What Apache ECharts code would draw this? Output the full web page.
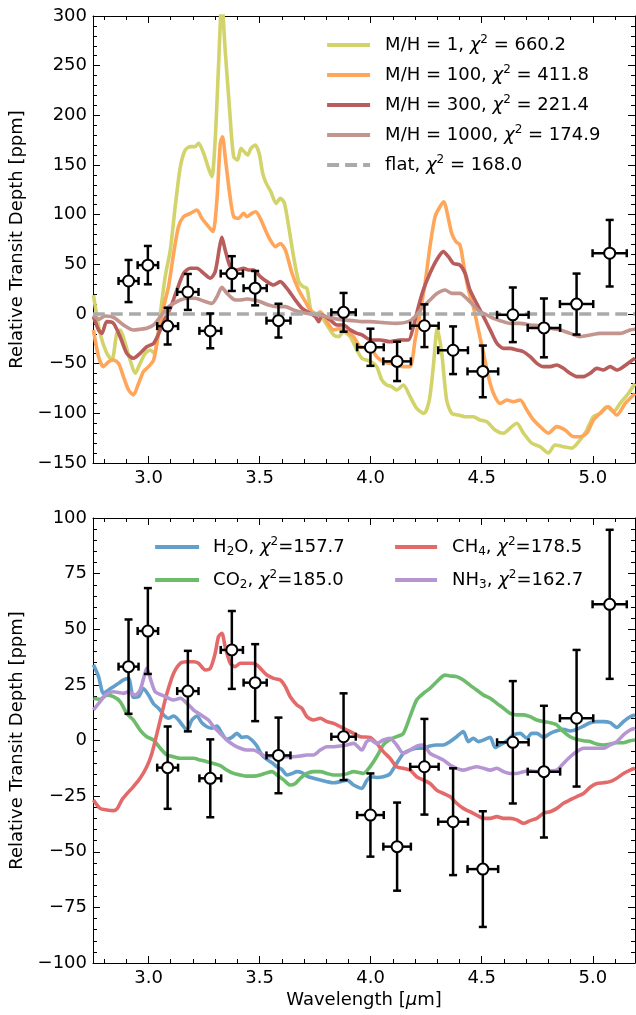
<!DOCTYPE html>
<html>
<head>
<meta charset="utf-8">
<script src="https://cdn.jsdelivr.net/npm/echarts@6/dist/echarts.min.js"></script>
<style>html,body{margin:0;padding:0;background:#fff;}#c{width:636px;height:1015px;}</style>
</head>
<body>
<div id="c"></div>
<script>
// ---------- axis settings / tick labels ----------
const xMin = 2.75, xMax = 5.19;
const xMajorTicks = [3.0, 3.5, 4.0, 4.5, 5.0];
const xMinorTicks = [2.8, 2.9, 3.1, 3.2, 3.3, 3.4, 3.6, 3.7, 3.8, 3.9, 4.1, 4.2, 4.3, 4.4, 4.6, 4.7, 4.8, 4.9, 5.1];

// ---------- observed data points ----------
const obsX    = [2.91, 2.997, 3.086, 3.177, 3.278, 3.375, 3.48, 3.585, 3.878, 3.999, 4.119, 4.242, 4.371, 4.505, 4.64, 4.78, 4.927, 5.076];
const obsY    = [33.2, 49.2, -12.2, 22.2, -17, 40.7, 26, -6.7, 1.7, -33.5, -47.7, -11.8, -36.5, -57.8, -0.8, -14, 10, 61.2];
const obsXErr = [0.045, 0.046, 0.047, 0.048, 0.049, 0.05, 0.052, 0.054, 0.055, 0.06, 0.062, 0.064, 0.067, 0.069, 0.071, 0.073, 0.075, 0.077];
const obsYErr = [21.2, 19.3, 18.5, 18.1, 17.5, 17.5, 17.3, 17, 19.5, 18.7, 19.8, 21.5, 24, 26, 27.5, 29.6, 30.7, 33.5];

// ---------- top panel: metallicity models ----------
const topNames = ['M/H = 1', 'M/H = 100', 'M/H = 300', 'M/H = 1000', 'flat'];
const topChi2  = ['660.2', '411.8', '221.4', '174.9', '168.0'];

const mh1X = [2.752,2.782,2.812,2.835,2.857,2.872,2.895,2.917,2.94,2.962,2.985,3.008,3.026,3.053,3.075,3.098,3.12,3.143,3.165,3.188,3.21,3.225,3.248,3.27,3.285,3.3,3.315,3.33,3.345,3.365,3.383,3.401,3.416,3.431,3.446,3.461,3.48,3.498,3.514,3.53,3.551,3.574,3.593,3.611,3.631,3.653,3.676,3.695,3.713,3.731,3.751,3.773,3.803,3.833,3.856,3.878,3.908,3.938,3.961,4.0,4.027,4.05,4.072,4.095,4.117,4.147,4.177,4.207,4.24,4.264,4.282,4.3,4.32,4.342,4.365,4.395,4.425,4.462,4.492,4.523,4.56,4.598,4.635,4.658,4.688,4.725,4.763,4.8,4.83,4.868,4.905,4.943,4.973,5.003,5.033,5.063,5.093,5.123,5.16,5.19];
const mh1Y = [19,-19.5,-39.6,-46.3,-19.5,-16.1,-29.5,-46.3,-59.7,-49.7,-39.6,-36.2,-39.6,0.7,37.6,64.4,108,148,165,168.5,168.5,171.8,161.7,146.6,138.3,175,249,315,265.8,205.4,158.4,155,166.8,163.4,160,166.8,170,161.7,141.6,131.5,123,111.4,116.4,112,88,57.7,32.6,27.5,25.8,4,0.7,-1,-11,-21,-22.8,-17.8,-22.8,-36.2,-44.6,-48,-53,-66.4,-71.5,-73,-76.5,-71.5,-83,-95,-100,-86.6,-53,-14.4,-39.6,-86.6,-100,-101.7,-103.4,-103.4,-106.7,-108.4,-116.8,-120,-113.4,-110,-120,-130,-133.6,-140,-131.9,-133.6,-135,-126.8,-116.8,-103.4,-100,-93.3,-98.3,-90,-80,-70];

const mh100X = [2.752,2.775,2.797,2.82,2.842,2.865,2.887,2.91,2.932,2.955,2.977,3.0,3.023,3.045,3.068,3.09,3.113,3.135,3.158,3.188,3.218,3.24,3.27,3.29,3.308,3.323,3.333,3.345,3.365,3.383,3.405,3.428,3.443,3.465,3.483,3.503,3.526,3.548,3.571,3.593,3.616,3.646,3.676,3.706,3.728,3.751,3.773,3.803,3.833,3.863,3.893,3.923,3.953,4.0,4.027,4.057,4.087,4.117,4.147,4.177,4.2,4.222,4.245,4.267,4.29,4.312,4.33,4.345,4.365,4.384,4.402,4.42,4.44,4.462,4.485,4.508,4.53,4.553,4.583,4.613,4.643,4.673,4.703,4.733,4.763,4.8,4.838,4.875,4.913,4.943,4.973,5.003,5.033,5.07,5.108,5.146,5.19];
const mh100Y = [-16,-43,-53,-48,-46.3,-49.7,-63,-76.5,-81.5,-70,-58,-53,-46.3,-19.5,7.4,27.5,61,88,98,101.3,104.7,96.3,88,83,114.8,171.8,178.5,158.4,121.5,98,96.3,101.3,98,101.3,103,96.3,84.6,74.5,67.8,71,64.4,41,24.2,12.4,4,-1,2.3,-7.7,-16,-14.4,-17.8,-22.8,-33,-34.6,-43,-48,-49.7,-51.3,-53,-53,-26,0.7,31,68,98,108,113,101.3,81,72.8,69.5,47.7,24.2,7.4,-16,-39.6,-63,-80,-90,-86.6,-88.3,-86.6,-96.6,-106.7,-113.4,-120,-113.4,-116.8,-123.5,-123.5,-120,-106.7,-100,-93.3,-101.7,-90,-80];

const mh300X = [2.752,2.775,2.79,2.812,2.842,2.872,2.902,2.932,2.962,2.992,3.023,3.053,3.075,3.098,3.128,3.158,3.188,3.218,3.248,3.278,3.3,3.32,3.33,3.345,3.368,3.398,3.428,3.45,3.473,3.503,3.533,3.563,3.593,3.623,3.661,3.691,3.728,3.751,3.766,3.781,3.818,3.848,3.878,3.908,3.938,3.961,4.0,4.042,4.087,4.132,4.17,4.192,4.215,4.237,4.267,4.297,4.327,4.35,4.372,4.402,4.425,4.447,4.477,4.508,4.538,4.568,4.598,4.628,4.658,4.688,4.718,4.748,4.778,4.808,4.838,4.868,4.898,4.928,4.958,4.988,5.018,5.048,5.078,5.108,5.138,5.168,5.19];
const mh300Y = [-2.7,-16,-19.5,-7.7,-9.4,-22.8,-39.6,-44.6,-39.6,-33,-29.5,-16,-4.4,5.7,24.2,41,46,46,41,36,42.6,67.8,77.2,64.4,47.7,44.3,46,44.3,44.3,37.6,32.6,29.2,32.6,25.8,14,5.7,0.7,-2.7,-7.7,-1,-6,-11,-11,-16,-19.5,-21,-26.2,-26.2,-27.9,-26.2,-26.2,-12.8,7.4,24.2,41,54.4,62.8,57.7,51,49.3,41,24.2,10.7,-2.7,-16,-29.5,-34.6,-34.6,-36.2,-38,-43,-49.7,-53,-53,-51.3,-54.7,-59.7,-63,-63,-59.7,-54.7,-56.4,-53,-56.4,-53,-48,-44.6];

const mh1000X = [2.752,2.775,2.805,2.842,2.887,2.932,2.962,2.992,3.023,3.053,3.083,3.113,3.143,3.173,3.21,3.248,3.285,3.308,3.33,3.353,3.383,3.413,3.443,3.473,3.503,3.541,3.578,3.616,3.653,3.698,3.743,3.788,3.833,3.878,3.923,3.961,4.0,4.057,4.117,4.17,4.2,4.23,4.267,4.3,4.335,4.365,4.402,4.432,4.462,4.492,4.523,4.553,4.583,4.628,4.673,4.718,4.763,4.808,4.853,4.898,4.943,4.988,5.033,5.078,5.123,5.168,5.19];
const mh1000Y = [-1,-5.4,-2,-3.4,-11,-16.1,-15.4,-14.4,-11,-2.7,5.7,10.7,14.1,15.8,15.8,13.1,10.7,17.4,26.8,20.8,14.8,14.1,15.1,14.1,12.4,9,7.4,7.4,4,1.3,-0.3,-2,-4.4,-6,-6.7,-7.7,-7.7,-8.7,-9.4,-7.7,-2.7,5.7,14.1,20.8,24.2,20.8,20.8,15.8,9,2.3,-1,-4.4,-6.7,-9.4,-9.4,-11,-12,-14.4,-16.1,-19.5,-22.8,-21.1,-19.5,-19.5,-19.5,-16.1,-15.4];

const flatX = [2.75, 5.19];
const flatY = [0, 0];

// ---------- bottom panel: single-molecule models ----------
const botNames = ['H2O', 'CO2', 'CH4', 'NH3'];
const botChi2  = ['157.7', '185.0', '178.5', '162.7'];

const h2oX = [2.752,2.775,2.797,2.82,2.842,2.865,2.887,2.91,2.932,2.955,2.977,3.0,3.023,3.045,3.068,3.09,3.113,3.135,3.158,3.173,3.195,3.218,3.24,3.263,3.285,3.308,3.33,3.353,3.375,3.398,3.42,3.443,3.465,3.488,3.51,3.533,3.556,3.578,3.6,3.623,3.646,3.668,3.69,3.713,3.743,3.773,3.803,3.833,3.863,3.893,3.923,3.96,3.982,4.0,4.027,4.057,4.087,4.117,4.147,4.177,4.207,4.237,4.267,4.297,4.327,4.357,4.387,4.417,4.44,4.462,4.485,4.508,4.538,4.56,4.583,4.613,4.643,4.673,4.703,4.725,4.748,4.778,4.808,4.838,4.868,4.898,4.928,4.958,4.988,5.018,5.048,5.078,5.108,5.138,5.168,5.19];
const h2oY = [34,28.7,21.2,22.7,24.2,25.7,27.2,27.9,19.4,19.7,23.4,20.4,16.4,14.5,11.5,10,11,9.2,6.2,4.7,9.2,11,8,6.2,5.5,6.5,3.2,0.5,1.4,3.2,1.4,1.7,0.2,-2.5,-6.5,-8.5,-10,-11.8,-13,-15.5,-14.8,-14,-14.4,-16,-17,-17.8,-18.5,-19,-18.5,-17.8,-20,-21.5,-18,-16.3,-16.6,-16.3,-15,-10.3,-5.8,-4.3,-3.5,-3.5,-2.5,-2,-2,-0.5,1.7,4,-0.5,1,-0.5,0.2,1.4,-3.1,-2,-0.1,2.5,3.2,1,3.2,3.2,1.4,3.2,4.4,5,4.3,5,6.5,8,8.5,8.5,8,5.9,8.5,10.7,11.5];

const co2X = [2.752,2.782,2.812,2.842,2.872,2.902,2.932,2.962,2.992,3.023,3.053,3.083,3.113,3.143,3.173,3.203,3.233,3.263,3.293,3.323,3.353,3.383,3.413,3.443,3.473,3.503,3.533,3.556,3.578,3.608,3.638,3.661,3.683,3.713,3.743,3.773,3.803,3.833,3.863,3.893,3.923,3.967,3.997,4.027,4.057,4.087,4.117,4.147,4.177,4.207,4.237,4.267,4.297,4.335,4.357,4.387,4.417,4.447,4.477,4.508,4.538,4.568,4.598,4.628,4.658,4.688,4.718,4.748,4.778,4.808,4.838,4.868,4.898,4.928,4.958,4.988,5.018,5.048,5.078,5.108,5.138,5.168,5.19];
const co2Y = [19,18.5,20.4,19.7,17.5,12.2,9.2,4.7,1.7,0.2,-3.5,-6.5,-7.3,-8,-8,-8,-8.8,-9.5,-10.3,-11.3,-13.3,-14.8,-15.5,-16,-16,-15.5,-14.5,-14,-15.5,-17.7,-20,-19.3,-17,-14.8,-14,-14,-14.8,-15.5,-15.5,-15,-14,-14.8,-11.8,-7.3,-2,0.5,1.7,3.2,10.7,18.2,21.2,23.4,26.4,29.4,29,28.7,27.2,24.9,22.7,20.4,19,16.7,14.5,12.2,11.5,11.5,10.7,9.2,8.5,8,7,4,1.7,0.5,-0.1,-0.5,-1.6,-2,-1.6,-1,-1,-0.1,0.2];

const ch4X = [2.752,2.782,2.812,2.842,2.86,2.88,2.902,2.932,2.962,2.992,3.015,3.038,3.06,3.083,3.113,3.143,3.173,3.203,3.225,3.255,3.278,3.3,3.315,3.33,3.345,3.368,3.39,3.413,3.443,3.465,3.488,3.51,3.533,3.563,3.593,3.616,3.638,3.668,3.69,3.713,3.743,3.773,3.803,3.833,3.863,3.893,3.923,3.953,3.997,4.027,4.057,4.087,4.117,4.147,4.177,4.207,4.237,4.267,4.297,4.327,4.357,4.387,4.417,4.447,4.477,4.508,4.538,4.568,4.598,4.628,4.658,4.688,4.718,4.748,4.778,4.808,4.838,4.868,4.898,4.928,4.958,4.988,5.018,5.048,5.078,5.108,5.138,5.168,5.19];
const ch4Y = [-26.7,-30.5,-31.2,-31.5,-30.5,-26.7,-24,-20.7,-17,-11.8,-5.8,3.2,12.2,21.2,30.2,34.7,35.4,35.4,34.7,31.7,32.4,39.2,46.7,48.2,42.2,34.7,33.2,34.7,34.7,34.7,33.9,31.7,29.4,27.9,27.2,24.2,19.7,16,14.5,10.7,9.2,10,8.5,7.7,6.2,4.7,3.2,1.7,1.4,-1.3,-5,-8,-11.8,-12.5,-13.3,-16.3,-17.8,-19.3,-22.3,-23.8,-25.2,-28.2,-30.5,-32,-33.5,-35,-35,-34.2,-35,-35,-35.7,-37.2,-36,-35,-32.7,-32,-30.5,-28.2,-26.7,-25.2,-23.8,-21,-19.3,-19,-18.5,-17,-14.8,-13.3,-12.5];

const nh3X = [2.752,2.782,2.812,2.842,2.887,2.91,2.94,2.962,2.982,2.992,3.01,3.03,3.06,3.09,3.113,3.143,3.173,3.203,3.225,3.248,3.27,3.293,3.323,3.353,3.383,3.413,3.443,3.473,3.503,3.533,3.563,3.593,3.623,3.653,3.683,3.713,3.743,3.773,3.803,3.833,3.863,3.893,3.923,3.96,3.982,4.0,4.027,4.057,4.087,4.117,4.147,4.177,4.207,4.237,4.267,4.297,4.327,4.357,4.387,4.417,4.447,4.477,4.508,4.538,4.568,4.598,4.628,4.658,4.688,4.718,4.748,4.778,4.808,4.838,4.868,4.898,4.928,4.958,4.988,5.018,5.048,5.078,5.108,5.138,5.168,5.19];
const nh3Y = [13.7,17.5,20.9,21.9,21.2,21.9,20.4,22.7,29.4,32.4,27.2,21.9,20.4,19,18.2,19,16.7,13.7,12.2,10.7,9.2,6.2,3.2,0.2,-2,-3.5,-4.3,-4.3,-5.8,-7.3,-7.3,-7.3,-7.3,-7.3,-7,-6.5,-6.5,-4.3,-2.8,-2.8,-2.5,-2,-1.3,-4.3,-0.5,0.2,-1.3,0.2,1,-2,-5.8,-4.3,-2.5,-2,-5.8,-7.3,-8.8,-11,-12.5,-13.3,-12.5,-11.8,-12.5,-13.3,-12.5,-14,-14.8,-14.8,-14,-13.6,-14,-13.3,-13.6,-13.3,-10.3,-7.3,-5,-3.5,-3.5,-3.5,-3.5,-2,-0.5,2.5,4.7,5.5];

// ---------- build chart ----------
const FONT = 'DejaVu Sans';
const zip = (xs, ys) => xs.map((x, i) => [x, ys[i]]);
const minus = v => String(v).replace('-', '\u2212');

function xAxesFor(grid, withLabels, name) {
  const base = {
    type: 'value', gridIndex: grid, min: xMin, max: xMax,
    splitLine: { show: false }, axisPointer: { show: false }
  };
  const line = { show: true, onZero: false, lineStyle: { color: '#000', width: 1 } };
  const noLine = { show: false, onZero: false };
  const axes = [];
  axes.push(Object.assign({}, base, {
    position: 'bottom', axisLine: line,
    axisTick: { show: true, inside: true, length: 7, customValues: xMajorTicks, lineStyle: { color: '#000', width: 1 } },
    axisLabel: { show: true, customValues: xMajorTicks, formatter: v => Number(v).toFixed(1), color: '#000', fontSize: 18, fontFamily: FONT, margin: 6 },
    name: name || '', nameLocation: 'middle', nameGap: 28,
    nameTextStyle: { color: '#000', fontSize: 18, fontFamily: FONT,
      rich: { n: { fontSize: 18, fontFamily: FONT, color: '#000' }, i: { fontSize: 18, fontFamily: FONT, fontStyle: 'italic', color: '#000' } } }
  }));
  axes.push(Object.assign({}, base, {
    position: 'bottom', axisLine: noLine,
    axisTick: { show: true, inside: true, length: 4, customValues: xMinorTicks, lineStyle: { color: '#000', width: 1 } },
    axisLabel: { show: false }
  }));
  axes.push(Object.assign({}, base, {
    position: 'top', axisLine: line,
    axisTick: { show: true, inside: true, length: 7, customValues: xMajorTicks, lineStyle: { color: '#000', width: 1 } },
    axisLabel: { show: false }
  }));
  axes.push(Object.assign({}, base, {
    position: 'top', axisLine: noLine,
    axisTick: { show: true, inside: true, length: 4, customValues: xMinorTicks, lineStyle: { color: '#000', width: 1 } },
    axisLabel: { show: false }
  }));
  return axes;
}

function yAxesFor(grid, min, max, interval) {
  const base = {
    type: 'value', gridIndex: grid, min: min, max: max, interval: interval,
    splitLine: { show: false }, minorSplitLine: { show: false },
    axisLine: { show: true, onZero: false, lineStyle: { color: '#000', width: 1 } },
    axisTick: { show: true, inside: true, length: 7, lineStyle: { color: '#000', width: 1 } },
    minorTick: { show: true, splitNumber: 5, length: 4, lineStyle: { color: '#000', width: 1 } },
    axisPointer: { show: false }
  };
  return [
    Object.assign({}, base, {
      position: 'left',
      axisLabel: { show: true, formatter: minus, color: '#000', fontSize: 18, fontFamily: FONT, margin: 6 },
      name: 'Relative Transit Depth [ppm]', nameLocation: 'middle', nameGap: 65,
      nameTextStyle: { color: '#000', fontSize: 18, fontFamily: FONT }
    }),
    Object.assign({}, base, { position: 'right', axisLabel: { show: false } })
  ];
}

function lineSeries(name, xs, ys, color, xi, yi, dashed) {
  return {
    type: 'line', name: name, xAxisIndex: xi, yAxisIndex: yi,
    data: zip(xs, ys), symbol: 'none', showSymbol: false, smooth: 0.25,
    clip: true, silent: true, z: 2,
    lineStyle: { color: color, width: 3.6, type: dashed ? [12, 6] : 'solid', cap: 'butt' },
    itemStyle: { color: color },
    emphasis: { disabled: true }
  };
}

function errorSeries(xi, yi) {
  return {
    type: 'custom', xAxisIndex: xi, yAxisIndex: yi, silent: true, z: 10,
    data: obsX.map((x, i) => [x, obsY[i], obsXErr[i], obsYErr[i]]),
    encode: { x: 0, y: 1 },
    renderItem: function (params, api) {
      const x = api.value(0), y = api.value(1), xe = api.value(2), ye = api.value(3);
      const c = api.coord([x, y]);
      const t = api.coord([x, y + ye]);
      const b = api.coord([x, y - ye]);
      const l = api.coord([x - xe, y]);
      const r = api.coord([x + xe, y]);
      const cap = 4;
      const st = { stroke: '#000', lineWidth: 2.5 };
      const seg = (x1, y1, x2, y2) => ({ type: 'line', shape: { x1: x1, y1: y1, x2: x2, y2: y2 }, style: st });
      return {
        type: 'group',
        children: [
          seg(c[0], t[1], c[0], b[1]),
          seg(c[0] - cap, t[1], c[0] + cap, t[1]),
          seg(c[0] - cap, b[1], c[0] + cap, b[1]),
          seg(l[0], c[1], r[0], c[1]),
          seg(l[0], c[1] - cap, l[0], c[1] + cap),
          seg(r[0], c[1] - cap, r[0], c[1] + cap)
        ]
      };
    }
  };
}

function pointSeries(xi, yi) {
  return {
    type: 'scatter', xAxisIndex: xi, yAxisIndex: yi, silent: true, z: 11,
    data: zip(obsX, obsY), symbol: 'circle', symbolSize: 11,
    itemStyle: { color: '#fff', borderColor: '#000', borderWidth: 2, opacity: 1 },
    emphasis: { disabled: true }
  };
}

const richLegend = {
  n: { fontSize: 18, fontFamily: FONT, color: '#000', lineHeight: 22 },
  i: { fontSize: 18, fontFamily: FONT, fontStyle: 'italic', color: '#000', lineHeight: 22 },
  s: { fontSize: 12, fontFamily: FONT, color: '#000', lineHeight: 10, verticalAlign: 'top' },
  b: { fontSize: 12, fontFamily: FONT, color: '#000', lineHeight: 10, verticalAlign: 'bottom' }
};

function topLegendText(name) {
  const k = topNames.indexOf(name);
  return '{n|' + name + ', }{i|\u03c7}{s|2}{n| = ' + topChi2[k] + '}';
}
function molText(name) {
  return name.replace(/(\d)/g, '}{b|$1}{n|');
}
function botLegendText(name) {
  const k = botNames.indexOf(name);
  return '{n|' + molText(name) + ', }{i|\u03c7}{s|2}{n|=' + botChi2[k] + '}';
}

const hiddenSymbol = { color: 'rgba(0,0,0,0)', borderColor: 'rgba(0,0,0,0)', borderWidth: 0, opacity: 0 };
const legendLine = { width: 4.2 };

const topColors = ['#d2d36a', '#ffa65a', '#b85c5c', '#c2958e', '#aaaaaa'];
const botColors = ['#62a0cb', '#6cbc6c', '#e46a6a', '#b596d2'];

const option = {
  animation: false,
  backgroundColor: '#fff',
  grid: [
    { left: 93, top: 16, width: 542, height: 447, containLabel: false },
    { left: 93, top: 518, width: 542, height: 445, containLabel: false }
  ],
  xAxis: [].concat(
    xAxesFor(0, true, ''),
    xAxesFor(1, true, '{n|Wavelength [}{i|\u03bc}{n|m]}')
  ),
  yAxis: [].concat(
    yAxesFor(0, -150, 300, 50),
    yAxesFor(1, -100, 100, 25)
  ),
  legend: [
    {
      data: topNames, orient: 'vertical', left: 325, top: 34, padding: 0, itemGap: 10,
      itemWidth: 43, itemHeight: 14, selectedMode: false, itemStyle: hiddenSymbol, lineStyle: legendLine,
      formatter: topLegendText,
      textStyle: { fontSize: 18, fontFamily: FONT, color: '#000', padding: [0, 0, 0, 10], rich: richLegend }
    },
    {
      data: ['H2O', 'CO2'], orient: 'vertical', left: 153, top: 536, padding: 0, itemGap: 11,
      itemWidth: 44, itemHeight: 14, selectedMode: false, itemStyle: hiddenSymbol, lineStyle: legendLine,
      formatter: botLegendText,
      textStyle: { fontSize: 18, fontFamily: FONT, color: '#000', padding: [0, 0, 0, 9], rich: richLegend }
    },
    {
      data: ['CH4', 'NH3'], orient: 'vertical', left: 393, top: 536, padding: 0, itemGap: 11,
      itemWidth: 42, itemHeight: 14, selectedMode: false, itemStyle: hiddenSymbol, lineStyle: legendLine,
      formatter: botLegendText,
      textStyle: { fontSize: 18, fontFamily: FONT, color: '#000', padding: [0, 0, 0, 10], rich: richLegend }
    }
  ],
  series: [
    lineSeries(topNames[0], mh1X, mh1Y, topColors[0], 0, 0),
    lineSeries(topNames[1], mh100X, mh100Y, topColors[1], 0, 0),
    lineSeries(topNames[2], mh300X, mh300Y, topColors[2], 0, 0),
    lineSeries(topNames[3], mh1000X, mh1000Y, topColors[3], 0, 0),
    lineSeries(topNames[4], flatX, flatY, topColors[4], 0, 0, true),
    errorSeries(0, 0),
    pointSeries(0, 0),
    lineSeries(botNames[0], h2oX, h2oY, botColors[0], 4, 2),
    lineSeries(botNames[1], co2X, co2Y, botColors[1], 4, 2),
    lineSeries(botNames[2], ch4X, ch4Y, botColors[2], 4, 2),
    lineSeries(botNames[3], nh3X, nh3Y, botColors[3], 4, 2),
    errorSeries(4, 2),
    pointSeries(4, 2)
  ]
};

const chart = echarts.init(document.getElementById('c'), null, { renderer: 'canvas', width: 636, height: 1015 });
chart.setOption(option);
</script>
</body>
</html>
